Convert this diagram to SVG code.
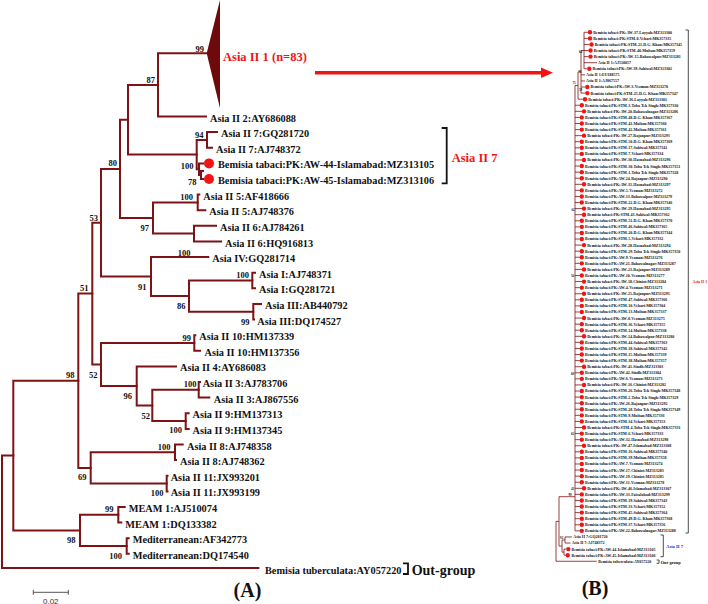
<svg xmlns="http://www.w3.org/2000/svg" width="708" height="604" viewBox="0 0 708 604">
<style>
.br{fill:none;stroke:#7d1315;stroke-width:2;stroke-linecap:square}
.brb{fill:none;stroke:#7d1315;stroke-width:0.8}
.t{font-family:"Liberation Serif","Times New Roman",serif;font-weight:bold;fill:#111}
.lb{font-size:10.3px}
.bs{font-size:8.5px;text-anchor:end}
.lbb{font-size:4px}
.bsb{font-size:3.2px;text-anchor:middle}
.dot{fill:#f21414}
.red{fill:#f21414}
.brk{fill:none;stroke:#111;stroke-width:1.8}
.brkb{fill:none;stroke:#222;stroke-width:0.8}
</style>
<rect width="708" height="604" fill="#fff"/>

<!-- Panel A branches -->
<g id="connectors-A">
<polygon points="206.7,53.3 220,0 220,108.3" fill="#6e0a0c"/>
<path class="br" d="M206.7,53.3 H158 V116.5 H206"/>
<path class="br" d="M217,132.1 H207 V147.7 H212"/>
<path class="br" d="M203,163.4 H199 V175 H201"/>
<path class="br" d="M203,171 H201 V179 H203"/>
<path class="br" d="M207,139.9 H196.7 V169.2 H199"/>
<path class="br" d="M158,84.9 H128 V154.6 H196.7"/>
<path class="br" d="M199.3,194.6 H197.7 V210.2 H205.3"/>
<path class="br" d="M216,225.8 H194 V241.5 H221"/>
<path class="br" d="M197.7,202.4 H153 V233.6 H194"/>
<path class="br" d="M128,119.7 H120 V218 H153"/>
<path class="br" d="M255,272.7 H252.3 V288.3 H255"/>
<path class="br" d="M261,303.9 H253.3 V319.6 H254"/>
<path class="br" d="M252.3,280.5 H189 V311.7 H253.3"/>
<path class="br" d="M208.3,257.1 H151 V296.1 H189"/>
<path class="br" d="M120,168.9 H101 V276.6 H151"/>
<path class="br" d="M195.3,335.2 H194.3 V350.8 H200"/>
<path class="br" d="M200,382 H198.7 V397.6 H209.3"/>
<path class="br" d="M188.7,413.3 H185.7 V428.9 H188.7"/>
<path class="br" d="M198.7,389.8 H152.3 V421.1 H185.7"/>
<path class="br" d="M176,366.4 H136.7 V405.5 H152.3"/>
<path class="br" d="M194.3,343 H101 V386 H136.7"/>
<path class="br" d="M101,222.7 H92.3 V364.5 H101"/>
<path class="br" d="M182.7,444.5 H175 V460.1 H176"/>
<path class="br" d="M167.5,475.7 H166.7 V491.4 H167.5"/>
<path class="br" d="M175,452.3 H90.7 V483.6 H166.7"/>
<path class="br" d="M92.3,293.6 H78.3 V468 H90.7"/>
<path class="br" d="M124.7,507 H118.3 V522.6 H121.3"/>
<path class="br" d="M128.7,538.2 H126.7 V553.8 H128.7"/>
<path class="br" d="M118.3,514.8 H80 V546 H126.7"/>
<path class="br" d="M78.3,380.8 H13.3 V530.4 H80"/>
<path class="br" d="M13.3,455.6 H2 V568 H258.3"/>
</g>

<!-- Panel A bootstrap values -->
<g id="bootstrap-A" class="t bs">
<text x="204" y="52">99</text>
<text x="155" y="83">87</text>
<text x="203.5" y="138">94</text>
<text x="193.5" y="169">100</text>
<text x="196.5" y="185">78</text>
<text x="117" y="166">80</text>
<text x="193" y="200">100</text>
<text x="149" y="231">97</text>
<text x="190.5" y="256">100</text>
<text x="98" y="221">53</text>
<text x="146.5" y="289.5">91</text>
<text x="249" y="278">100</text>
<text x="185.5" y="308.5">86</text>
<text x="249.5" y="324.5">99</text>
<text x="88.5" y="291">51</text>
<text x="191" y="340.5">99</text>
<text x="97.5" y="378">52</text>
<text x="132" y="399">96</text>
<text x="196.5" y="387">100</text>
<text x="150" y="419">52</text>
<text x="182" y="433">100</text>
<text x="74.5" y="378">98</text>
<text x="170.5" y="449.5">100</text>
<text x="86.5" y="480">69</text>
<text x="163.5" y="495.5">100</text>
<text x="113.5" y="512">99</text>
<text x="75.5" y="543">98</text>
<text x="122" y="559">100</text>
</g>

<!-- Panel A leaves -->
<g id="clade-asia-ii-1"><text class="t red" x="223" y="61" font-size="12.5px">Asia II 1 (n=83)</text></g>
<g id="leaf-a0"><text class="t lb" x="210" y="121.5">Asia II 2:AY686088</text></g>
<g id="leaf-a1"><text class="t lb" x="221" y="137.1">Asia II 7:GQ281720</text></g>
<g id="leaf-a2"><text class="t lb" x="216" y="152.7">Asia II 7:AJ748372</text></g>
<g id="leaf-a3"><circle class="dot" cx="209" cy="163.4" r="5"/><text class="t lb" x="218" y="168.4">Bemisia tabaci:PK:AW-44-Islamabad:MZ313105</text></g>
<g id="leaf-a4"><circle class="dot" cx="209" cy="179" r="5"/><text class="t lb" x="218" y="184">Bemisia tabaci:PK:AW-45-Islamabad:MZ313106</text></g>
<g id="leaf-a5"><text class="t lb" x="203.3" y="199.6">Asia II 5:AF418666</text></g>
<g id="leaf-a6"><text class="t lb" x="209.3" y="215.2">Asia II 5:AJ748376</text></g>
<g id="leaf-a7"><text class="t lb" x="220" y="230.8">Asia II 6:AJ784261</text></g>
<g id="leaf-a8"><text class="t lb" x="225" y="246.5">Asia II 6:HQ916813</text></g>
<g id="leaf-a9"><text class="t lb" x="212.3" y="262.1">Asia IV:GQ281714</text></g>
<g id="leaf-a10"><text class="t lb" x="259" y="277.7">Asia I:AJ748371</text></g>
<g id="leaf-a11"><text class="t lb" x="259" y="293.3">Asia I:GQ281721</text></g>
<g id="leaf-a12"><text class="t lb" x="265" y="308.9">Asia III:AB440792</text></g>
<g id="leaf-a13"><text class="t lb" x="257.3" y="324.6">Asia III:DQ174527</text></g>
<g id="leaf-a14"><text class="t lb" x="199.3" y="340.2">Asia II 10:HM137339</text></g>
<g id="leaf-a15"><text class="t lb" x="204.5" y="355.8">Asia II 10:HM137356</text></g>
<g id="leaf-a16"><text class="t lb" x="180" y="371.4">Asia II 4:AY686083</text></g>
<g id="leaf-a17"><text class="t lb" x="202.7" y="387">Asia II 3:AJ783706</text></g>
<g id="leaf-a18"><text class="t lb" x="213.8" y="402.6">Asia II 3:AJ867556</text></g>
<g id="leaf-a19"><text class="t lb" x="192.5" y="418.3">Asia II 9:HM137313</text></g>
<g id="leaf-a20"><text class="t lb" x="192.5" y="433.9">Asia II 9:HM137345</text></g>
<g id="leaf-a21"><text class="t lb" x="187" y="449.5">Asia II 8:AJ748358</text></g>
<g id="leaf-a22"><text class="t lb" x="180" y="465.1">Asia II 8:AJ748362</text></g>
<g id="leaf-a23"><text class="t lb" x="170.7" y="480.7">Asia II 11:JX993201</text></g>
<g id="leaf-a24"><text class="t lb" x="170.7" y="496.4">Asia II 11:JX993199</text></g>
<g id="leaf-a25"><text class="t lb" x="128.7" y="512">MEAM 1:AJ510074</text></g>
<g id="leaf-a26"><text class="t lb" x="125.3" y="527.6">MEAM 1:DQ133382</text></g>
<g id="leaf-a27"><text class="t lb" x="132.7" y="543.2">Mediterranean:AF342773</text></g>
<g id="leaf-a28"><text class="t lb" x="132.7" y="558.8">Mediterranean:DQ174540</text></g>
<g id="leaf-a29"><text class="t lb" x="265" y="574.3">Bemisia tuberculata:AY057220</text></g>

<g id="bracket-asia-ii-7-A"><path class="brk" d="M441.7,128 H446.7 V183.3 H441.7"/><text class="t red" x="451.7" y="161.5" font-size="12.5px">Asia II 7</text></g>
<g id="outgroup-A"><path class="brk" d="M403,563.3 H408 V574 H403" stroke-width="2"/><text class="t" x="411.7" y="575.3" font-size="14px">Out-group</text></g>

<g id="scale-bar"><path d="M33.3,592.3 H68.3 M33.3,589.8 V594.8 M68.3,589.8 V594.8" fill="none" stroke="#555" stroke-width="1"/><text x="50.8" y="603.5" font-family="Liberation Sans, Arial, sans-serif" font-size="8px" fill="#333" text-anchor="middle">0.02</text></g>
<g id="label-A"><text class="t" x="247.5" y="596.5" font-size="20px" text-anchor="middle">(A)</text></g>

<g id="arrow"><path d="M315,72.7 H543" stroke="#f21414" stroke-width="3.5" fill="none"/><polygon points="541,67.5 553,72.7 541,78" fill="#f21414"/></g>

<!-- Panel B -->
<g id="connectors-B">
<path class="brb" d="M584,32.3 V68.78 M584,32.3 H587.8 M584,38.38 H587.8 M584,44.46 H589.3 M584,50.54 H588.3 M584,56.62 H588.3 M584,62.7 H597 M584,68.78 H587.1"/>
<path class="brb" d="M584,50.54 H581 V93.1 M581,74.86 H585 M581,80.94 H585 M581,87.02 H585.1 M581,93.1 H585.1"/>
<path class="brb" d="M581,71.8 H578 V99.18 H582.8"/>
<path class="brb" d="M578,85.5 H575 V530.86"/>
<path class="brb" d="M575,105.26H579.8M575,111.34H582M575,117.42H579.8M575,123.5H579.8M575,129.58H579.8M575,135.66H582M575,141.74H579.8M575,147.82H579.8M575,153.9H579.8M575,159.98H582M575,166.06H579.8M575,172.14H579.8M575,178.22H579.8M575,184.3H582M575,190.38H579.8M575,196.46H579.8M575,202.54H579.8M575,208.62H582M575,214.7H582M575,220.78H579.8M575,226.86H579.8M575,232.94H579.8M575,239.02H579.8M575,245.1H582M575,251.18H579.8M575,257.26H579.8M575,263.34H579.8M575,269.42H582M575,275.5H579.8M575,281.58H582M575,287.66H579.8M575,293.74H582M575,299.82H579.8M575,305.9H579.8M575,311.98H579.8M575,318.06H582M575,324.14H579.8M575,330.22H579.8M575,336.3H582M575,342.38H579.8M575,348.46H579.8M575,354.54H579.8M575,360.62H579.8M575,366.7H582M575,372.78H579.8M575,378.86H579.8M575,384.94H582M575,391.02H579.8M575,397.1H579.8M575,403.18H579.8M575,409.26H579.8M575,415.34H579.8M575,421.42H579.8M575,427.5H582M575,433.58H579.8M575,439.66H579.8M575,445.74H582M575,451.82H579.8M575,457.9H579.8M575,463.98H579.8M575,470.06H579.8M575,476.14H579.8M575,482.22H579.8M575,488.3H582M575,494.38H579.8M575,500.46H579.8M575,506.54H579.8M575,512.62H579.8M575,518.7H579.8M575,524.78H579.8M575,530.86H579.8"/>
<path class="brb" d="M575,496.7 H559 V546.06 H562"/>
<path class="brb" d="M565,539.98 H562 V552.14 H564"/>
<path class="brb" d="M572,536.94 H565 V543.02 H570.5"/>
<path class="brb" d="M566,549.1 H564 V555.18 H565.5"/>
<path class="brb" d="M559,521.4 H556 V561.26 H596.7"/>
</g>

<g id="bootstrap-B" class="t bsb">
<text x="580.5" y="53">64</text>
<text x="580" y="73">76</text>
<text x="574" y="84">75</text>
<text x="580.5" y="91">59</text>
<text x="573" y="210.5">62</text>
<text x="572.5" y="277">56</text>
<text x="572.5" y="375">60</text>
<text x="572.5" y="435">62</text>
<text x="572.5" y="490">41</text>
<text x="570" y="496">99</text>
<text x="561.7" y="538.5">92</text>
</g>

<g id="leaves-B" class="t lbb">
<g id="b0"><circle class="dot" cx="590" cy="32.3" r="2.2"/><text x="593.2" y="33.7">Bemisia tabaci:PK:AW-37-Layyah:MZ313300</text></g>
<g id="b1"><circle class="dot" cx="590" cy="38.38" r="2.2"/><text x="593.2" y="39.8">Bemisia tabaci:PK:STM-8-Vehari:MK357335</text></g>
<g id="b2"><circle class="dot" cx="591.5" cy="44.46" r="2.2"/><text x="594.7" y="45.9">Bemisia tabaci:PK:STM-21-D.G. Khan:MK357345</text></g>
<g id="b3"><circle class="dot" cx="590.5" cy="50.54" r="2.2"/><text x="593.7" y="51.9">Bemisia tabaci:PK:STM-40-Multan:MK357359</text></g>
<g id="b4"><circle class="dot" cx="590.5" cy="56.62" r="2.2"/><text x="593.7" y="58">Bemisia tabaci:PK:AW-15-Bahawalpur:MZ313281</text></g>
<g id="b5"><text x="598" y="64.1">Asia II 1:AJ510057</text></g>
<g id="b6"><circle class="dot" cx="589.3" cy="68.78" r="2.2"/><text x="592.5" y="70.2">Bemisia tabaci:PK:AW-39-Sahiwal:MZ313302</text></g>
<g id="b7"><text x="586" y="76.3">Asia II 1:EU188575</text></g>
<g id="b8"><text x="586" y="82.3">Asia II 1:AJ867557</text></g>
<g id="b9"><circle class="dot" cx="587.3" cy="87.02" r="2.2"/><text x="590.5" y="88.4">Bemisia tabaci:PK:AW-3-Vezman:MZ313270</text></g>
<g id="b10"><circle class="dot" cx="587.3" cy="93.1" r="2.2"/><text x="590.5" y="94.5">Bemisia tabaci:PK:STM-25-D.G. Khan:MK357347</text></g>
<g id="b11"><circle class="dot" cx="585" cy="99.18" r="2.2"/><text x="588.2" y="100.6">Bemisia tabaci:PK:AW-36-Layyah:MZ313301</text></g>
<g id="b12"><circle class="dot" cx="581.8" cy="105.26" r="2.2"/><text x="585" y="106.7">Bemisia tabaci:PK:STM-3-Toba Tek Singh:MK357330</text></g>
<g id="b13"><circle class="dot" cx="584" cy="111.34" r="2.2"/><text x="587.2" y="112.7">Bemisia tabaci:PK:AW-20-Bahawalnagar:MZ313286</text></g>
<g id="b14"><circle class="dot" cx="581.8" cy="117.42" r="2.2"/><text x="585" y="118.8">Bemisia tabaci:PK:STM-48-D.G. Khan:MK357367</text></g>
<g id="b15"><circle class="dot" cx="581.8" cy="123.5" r="2.2"/><text x="585" y="124.9">Bemisia tabaci:PK:STM-41-Multan:MK357360</text></g>
<g id="b16"><circle class="dot" cx="581.8" cy="129.58" r="2.2"/><text x="585" y="131">Bemisia tabaci:PK:STM-42-Multan:MK357361</text></g>
<g id="b17"><circle class="dot" cx="584" cy="135.66" r="2.2"/><text x="587.2" y="137.1">Bemisia tabaci:PK:AW-27-Rajanpur:MZ313293</text></g>
<g id="b18"><circle class="dot" cx="581.8" cy="141.74" r="2.2"/><text x="585" y="143.1">Bemisia tabaci:PK:STM-50-D.G. Khan:MK357369</text></g>
<g id="b19"><circle class="dot" cx="581.8" cy="147.82" r="2.2"/><text x="585" y="149.2">Bemisia tabaci:PK:STM-17-Sahiwal:MK357341</text></g>
<g id="b20"><circle class="dot" cx="581.8" cy="153.9" r="2.2"/><text x="585" y="155.3">Bemisia tabaci:PK:STM-7-Vehari:MK357334</text></g>
<g id="b21"><circle class="dot" cx="584" cy="159.98" r="2.2"/><text x="587.2" y="161.4">Bemisia tabaci:PK:AW-30-Hasnabad:MZ313296</text></g>
<g id="b22"><circle class="dot" cx="581.8" cy="166.06" r="2.2"/><text x="585" y="167.5">Bemisia tabaci:PK:STM-30-Toba Tek Singh:MK357351</text></g>
<g id="b23"><circle class="dot" cx="581.8" cy="172.14" r="2.2"/><text x="585" y="173.5">Bemisia tabaci:PK:STM-1-Toba Tek Singh:MK357328</text></g>
<g id="b24"><circle class="dot" cx="581.8" cy="178.22" r="2.2"/><text x="585" y="179.6">Bemisia tabaci:PK:AW-24-Rajanpur:MZ313290</text></g>
<g id="b25"><circle class="dot" cx="584" cy="184.3" r="2.2"/><text x="587.2" y="185.7">Bemisia tabaci:PK:AW-31-Hasnabad:MZ313297</text></g>
<g id="b26"><circle class="dot" cx="581.8" cy="190.38" r="2.2"/><text x="585" y="191.8">Bemisia tabaci:PK:AW-5-Vezman:MZ313272</text></g>
<g id="b27"><circle class="dot" cx="581.8" cy="196.46" r="2.2"/><text x="585" y="197.9">Bemisia tabaci:PK:AW-13-Bahawalpur:MZ313279</text></g>
<g id="b28"><circle class="dot" cx="581.8" cy="202.54" r="2.2"/><text x="585" y="203.9">Bemisia tabaci:PK:STM-22-D.G. Khan:MK357346</text></g>
<g id="b29"><circle class="dot" cx="584" cy="208.62" r="2.2"/><text x="587.2" y="210">Bemisia tabaci:PK:AW-29-Hasnabad:MZ313295</text></g>
<g id="b30"><circle class="dot" cx="584" cy="214.7" r="2.2"/><text x="587.2" y="216.1">Bemisia tabaci:PK:STM-43-Sahiwal:MK357362</text></g>
<g id="b31"><circle class="dot" cx="581.8" cy="220.78" r="2.2"/><text x="585" y="222.2">Bemisia tabaci:PK:STM-51-D.G. Khan:MK357370</text></g>
<g id="b32"><circle class="dot" cx="581.8" cy="226.86" r="2.2"/><text x="585" y="228.3">Bemisia tabaci:PK:STM-46-Sahiwal:MK357365</text></g>
<g id="b33"><circle class="dot" cx="581.8" cy="232.94" r="2.2"/><text x="585" y="234.3">Bemisia tabaci:PK:STM-20-D.G. Khan:MK357344</text></g>
<g id="b34"><circle class="dot" cx="581.8" cy="239.02" r="2.2"/><text x="585" y="240.4">Bemisia tabaci:PK:STM-5-Vehari:MK357332</text></g>
<g id="b35"><circle class="dot" cx="584" cy="245.1" r="2.2"/><text x="587.2" y="246.5">Bemisia tabaci:PK:AW-28-Hasnabad:MZ313294</text></g>
<g id="b36"><circle class="dot" cx="581.8" cy="251.18" r="2.2"/><text x="585" y="252.6">Bemisia tabaci:PK:STM-29-Toba Tek Singh:MK357350</text></g>
<g id="b37"><circle class="dot" cx="581.8" cy="257.26" r="2.2"/><text x="585" y="258.7">Bemisia tabaci:PK:AW-9-Vezman:MZ313276</text></g>
<g id="b38"><circle class="dot" cx="581.8" cy="263.34" r="2.2"/><text x="585" y="264.7">Bemisia tabaci:PK:AW-21-Bahawalnagar:MZ313287</text></g>
<g id="b39"><circle class="dot" cx="584" cy="269.42" r="2.2"/><text x="587.2" y="270.8">Bemisia tabaci:PK:AW-23-Rajanpur:MZ313289</text></g>
<g id="b40"><circle class="dot" cx="581.8" cy="275.5" r="2.2"/><text x="585" y="276.9">Bemisia tabaci:PK:AW-10-Vezman:MZ313277</text></g>
<g id="b41"><circle class="dot" cx="584" cy="281.58" r="2.2"/><text x="587.2" y="283">Bemisia tabaci:PK:AW-18-Chiniot:MZ313284</text></g>
<g id="b42"><circle class="dot" cx="581.8" cy="287.66" r="2.2"/><text x="585" y="289.1">Bemisia tabaci:PK:AW-4-Vezman:MZ313271</text></g>
<g id="b43"><circle class="dot" cx="584" cy="293.74" r="2.2"/><text x="587.2" y="295.1">Bemisia tabaci:PK:AW-25-Rajanpur:MZ313291</text></g>
<g id="b44"><circle class="dot" cx="581.8" cy="299.82" r="2.2"/><text x="585" y="301.2">Bemisia tabaci:PK:STM-47-Sahiwal:MK357366</text></g>
<g id="b45"><circle class="dot" cx="581.8" cy="305.9" r="2.2"/><text x="585" y="307.3">Bemisia tabaci:PK:STM-10-Vehari:MK357304</text></g>
<g id="b46"><circle class="dot" cx="581.8" cy="311.98" r="2.2"/><text x="585" y="313.4">Bemisia tabaci:PK:STM-13-Multan:MK357337</text></g>
<g id="b47"><circle class="dot" cx="584" cy="318.06" r="2.2"/><text x="587.2" y="319.5">Bemisia tabaci:PK:AW-8-Vezman:MZ313275</text></g>
<g id="b48"><circle class="dot" cx="581.8" cy="324.14" r="2.2"/><text x="585" y="325.5">Bemisia tabaci:PK:STM-36-Vehari:MK357355</text></g>
<g id="b49"><circle class="dot" cx="581.8" cy="330.22" r="2.2"/><text x="585" y="331.6">Bemisia tabaci:PK:STM-14-Multan:MK357338</text></g>
<g id="b50"><circle class="dot" cx="584" cy="336.3" r="2.2"/><text x="587.2" y="337.7">Bemisia tabaci:PK:AW-14-Bahawalpur:MZ313280</text></g>
<g id="b51"><circle class="dot" cx="581.8" cy="342.38" r="2.2"/><text x="585" y="343.8">Bemisia tabaci:PK:STM-44-Sahiwal:MK357363</text></g>
<g id="b52"><circle class="dot" cx="581.8" cy="348.46" r="2.2"/><text x="585" y="349.9">Bemisia tabaci:PK:STM-18-Sahiwal:MK357342</text></g>
<g id="b53"><circle class="dot" cx="581.8" cy="354.54" r="2.2"/><text x="585" y="355.9">Bemisia tabaci:PK:STM-15-Multan:MK357339</text></g>
<g id="b54"><circle class="dot" cx="581.8" cy="360.62" r="2.2"/><text x="585" y="362">Bemisia tabaci:PK:STM-38-Multan:MK357357</text></g>
<g id="b55"><circle class="dot" cx="584" cy="366.7" r="2.2"/><text x="587.2" y="368.1">Bemisia tabaci:PK:AW-41-Sindh:MZ313303</text></g>
<g id="b56"><circle class="dot" cx="581.8" cy="372.78" r="2.2"/><text x="585" y="374.2">Bemisia tabaci:PK:AW-42-Sindh:MZ313304</text></g>
<g id="b57"><circle class="dot" cx="581.8" cy="378.86" r="2.2"/><text x="585" y="380.3">Bemisia tabaci:PK:AW-6-Vezman:MZ313273</text></g>
<g id="b58"><circle class="dot" cx="584" cy="384.94" r="2.2"/><text x="587.2" y="386.3">Bemisia tabaci:PK:AW-16-Chiniot:MZ313282</text></g>
<g id="b59"><circle class="dot" cx="581.8" cy="391.02" r="2.2"/><text x="585" y="392.4">Bemisia tabaci:PK:STM-26-Toba Tek Singh:MK357348</text></g>
<g id="b60"><circle class="dot" cx="581.8" cy="397.1" r="2.2"/><text x="585" y="398.5">Bemisia tabaci:PK:STM-2-Toba Tek Singh:MK357329</text></g>
<g id="b61"><circle class="dot" cx="581.8" cy="403.18" r="2.2"/><text x="585" y="404.6">Bemisia tabaci:PK:AW-26-Rajanpur:MZ313292</text></g>
<g id="b62"><circle class="dot" cx="581.8" cy="409.26" r="2.2"/><text x="585" y="410.7">Bemisia tabaci:PK:STM-28-Toba Tek Singh:MK357349</text></g>
<g id="b63"><circle class="dot" cx="581.8" cy="415.34" r="2.2"/><text x="585" y="416.7">Bemisia tabaci:PK:STM-9-Multan:MK357336</text></g>
<g id="b64"><circle class="dot" cx="581.8" cy="421.42" r="2.2"/><text x="585" y="422.8">Bemisia tabaci:PK:STM-34-Vehari:MK357353</text></g>
<g id="b65"><circle class="dot" cx="584" cy="427.5" r="2.2"/><text x="587.2" y="428.9">Bemisia tabaci:PK:STM-4-Toba Tek Singh:MK357331</text></g>
<g id="b66"><circle class="dot" cx="581.8" cy="433.58" r="2.2"/><text x="585" y="435">Bemisia tabaci:PK:STM-6-Vehari:MK357333</text></g>
<g id="b67"><circle class="dot" cx="581.8" cy="439.66" r="2.2"/><text x="585" y="441.1">Bemisia tabaci:PK:AW-32-Hasnabad:MZ313298</text></g>
<g id="b68"><circle class="dot" cx="584" cy="445.74" r="2.2"/><text x="587.2" y="447.1">Bemisia tabaci:PK:AW-47-Islamabad:MZ313308</text></g>
<g id="b69"><circle class="dot" cx="581.8" cy="451.82" r="2.2"/><text x="585" y="453.2">Bemisia tabaci:PK:STM-16-Sahiwal:MK357340</text></g>
<g id="b70"><circle class="dot" cx="581.8" cy="457.9" r="2.2"/><text x="585" y="459.3">Bemisia tabaci:PK:STM-39-Multan:MK357358</text></g>
<g id="b71"><circle class="dot" cx="581.8" cy="463.98" r="2.2"/><text x="585" y="465.4">Bemisia tabaci:PK:AW-7-Vezman:MZ313274</text></g>
<g id="b72"><circle class="dot" cx="581.8" cy="470.06" r="2.2"/><text x="585" y="471.5">Bemisia tabaci:PK:AW-17-Chiniot:MZ313283</text></g>
<g id="b73"><circle class="dot" cx="581.8" cy="476.14" r="2.2"/><text x="585" y="477.5">Bemisia tabaci:PK:AW-19-Chiniot:MZ313285</text></g>
<g id="b74"><circle class="dot" cx="581.8" cy="482.22" r="2.2"/><text x="585" y="483.6">Bemisia tabaci:PK:AW-11-Vezman:MZ313278</text></g>
<g id="b75"><circle class="dot" cx="584" cy="488.3" r="2.2"/><text x="587.2" y="489.7">Bemisia tabaci:PK:AW-46-Islamabad:MZ313307</text></g>
<g id="b76"><circle class="dot" cx="581.8" cy="494.38" r="2.2"/><text x="585" y="495.8">Bemisia tabaci:PK:AW-33-Faisalabad:MZ313299</text></g>
<g id="b77"><circle class="dot" cx="581.8" cy="500.46" r="2.2"/><text x="585" y="501.9">Bemisia tabaci:PK:STM-19-Sahiwal:MK357343</text></g>
<g id="b78"><circle class="dot" cx="581.8" cy="506.54" r="2.2"/><text x="585" y="507.9">Bemisia tabaci:PK:STM-33-Vehari:MK357352</text></g>
<g id="b79"><circle class="dot" cx="581.8" cy="512.62" r="2.2"/><text x="585" y="514">Bemisia tabaci:PK:STM-45-Sahiwal:MK357364</text></g>
<g id="b80"><circle class="dot" cx="581.8" cy="518.7" r="2.2"/><text x="585" y="520.1">Bemisia tabaci:PK:STM-49-D.G. Khan:MK357368</text></g>
<g id="b81"><circle class="dot" cx="581.8" cy="524.78" r="2.2"/><text x="585" y="526.2">Bemisia tabaci:PK:STM-37-Vehari:MK357356</text></g>
<g id="b82"><circle class="dot" cx="581.8" cy="530.86" r="2.2"/><text x="585" y="532.3">Bemisia tabaci:PK:AW-22-Bahawalnagar:MZ313288</text></g>
<g id="b83"><text x="573.3" y="538.3">Asia II 7:GQ281720</text></g>
<g id="b84"><text x="571.7" y="544.4">Asia II 7:AJ748372</text></g>
<g id="b85"><circle class="dot" cx="568.3" cy="549.1" r="2.2"/><text x="571.5" y="550.5">Bemisia tabaci:PK:AW-44-Islamabad:MZ313105</text></g>
<g id="b86"><circle class="dot" cx="567.7" cy="555.18" r="2.2"/><text x="571.5" y="556.6">Bemisia tabaci:PK:AW-45-Islamabad:MZ313106</text></g>
<g id="b87"><text x="598.3" y="562.7">Bemisia tuberculata:AY057220</text></g>
</g>

<g id="bracket-asia-ii-1-B"><path class="brkb" d="M685.5,30 H688.3 V533 H685.5"/><text class="t red" x="692.5" y="282.5" font-size="4px">Asia II 1</text></g>
<g id="bracket-asia-ii-7-B"><path class="brkb" d="M660.5,535 H663.3 V556.7 H660.5"/><text class="t" x="666" y="547.6" font-size="4.7px" style="fill:#2b2bd0">Asia II 7</text></g>
<g id="outgroup-B"><path class="brkb" d="M656.7,560 H659 V563.3 H656.7"/><text class="t" x="660.7" y="563.6" font-size="4.4px">Out-group</text></g>
<g id="label-B"><text class="t" x="595" y="595" font-size="20px" text-anchor="middle">(B)</text></g>
</svg>
